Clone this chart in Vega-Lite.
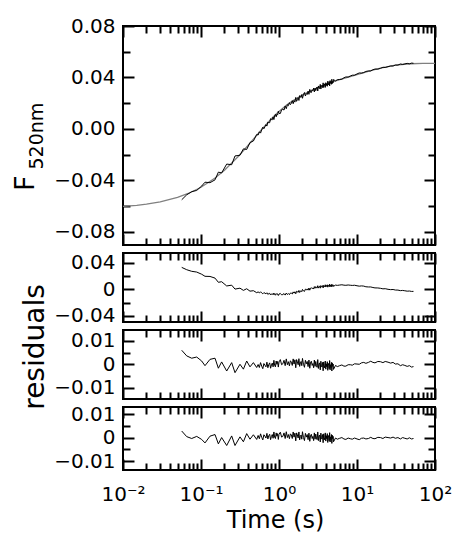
{
"$schema":"https://vega.github.io/schema/vega-lite/v6.json",
"background":"white",
"padding":{"left":10,"top":15,"right":0,"bottom":0},
"config":{"view":{"stroke":"black","strokeWidth":2},
"axis":{"grid":false,"domain":false,"labelFont":"DejaVu Sans","labelFontSize":20,"labelColor":"black","tickColor":"black","tickWidth":2,"titleFont":"DejaVu Sans","titleFontWeight":"normal","titleColor":"black","labelFlush":false,"labelOverlap":false}},
"datasets":{
"fit":[{"t":0.01,"F":-0.0601},{"t":0.015,"F":-0.05925},{"t":0.02,"F":-0.05834},{"t":0.03,"F":-0.05658},{"t":0.05,"F":-0.05316},{"t":0.07,"F":-0.04989},{"t":0.1,"F":-0.04528},{"t":0.15,"F":-0.03825},{"t":0.2,"F":-0.03197},{"t":0.3,"F":-0.02136},{"t":0.4,"F":-0.01283},{"t":0.5,"F":-0.00595},{"t":0.6,"F":-0.00037},{"t":0.7,"F":0.00417},{"t":0.8,"F":0.00793},{"t":0.9,"F":0.01104},{"t":1,"F":0.01364},{"t":1.25,"F":0.01855},{"t":1.5,"F":0.02196},{"t":2,"F":0.02645},{"t":2.5,"F":0.02939},{"t":3,"F":0.03155},{"t":3.5,"F":0.03324},{"t":4,"F":0.03462},{"t":5,"F":0.03672},{"t":6,"F":0.03828},{"t":7,"F":0.03952},{"t":8,"F":0.04056},{"t":10,"F":0.04226},{"t":12,"F":0.04364},{"t":15,"F":0.04527},{"t":20,"F":0.04722},{"t":25,"F":0.04851},{"t":30,"F":0.04936},{"t":40,"F":0.05029},{"t":50,"F":0.05069},{"t":70,"F":0.05094},{"t":100,"F":0.051}],
"res":[
{"t":0.0566,"r2":0.0329,"r3":0.006,"r4":0.0029,"F":-0.05496},
{"t":0.0656,"r2":0.0294,"r3":0.0036,"r4":0.0005,"F":-0.05111},
{"t":0.076,"r2":0.027,"r3":0.0026,"r4":-0.0003,"F":-0.04867},
{"t":0.0881,"r2":0.0259,"r3":0.0031,"r4":0.0006,"F":-0.04771},
{"t":0.102,"r2":0.0226,"r3":0.0014,"r4":-0.0007,"F":-0.0443},
{"t":0.1125,"r2":0.0195,"r3":-0.0006,"r4":-0.0022,"F":-0.04132},
{"t":0.1304,"r2":0.0193,"r3":0.0021,"r4":0.0007,"F":-0.04171},
{"t":0.1512,"r2":0.0168,"r3":0.0026,"r4":0.0014,"F":-0.0395},
{"t":0.167,"r2":0.0105,"r3":-0.0017,"r4":-0.0026,"F":-0.03352},
{"t":0.184,"r2":0.0114,"r3":0.001,"r4":0.0001,"F":-0.03408},
{"t":0.2135,"r2":0.005,"r3":-0.0029,"r4":-0.0033,"F":-0.02724},
{"t":0.2474,"r2":0.0062,"r3":0.0007,"r4":0.0008,"F":-0.02774},
{"t":0.2729,"r2":0.0003,"r3":-0.0036,"r4":-0.0033,"F":-0.02093},
{"t":0.316,"r2":0.0017,"r3":0.0,"r4":0.0004,"F":-0.0204},
{"t":0.3496,"r2":-0.0016,"r3":-0.0021,"r4":-0.0017,"F":-0.01543},
{"t":0.3853,"r2":0.0008,"r3":0.0014,"r4":0.0018,"F":-0.01589},
{"t":0.4248,"r2":-0.0028,"r3":-0.0011,"r4":-0.0006,"F":-0.01052},
{"t":0.4697,"r2":-0.0021,"r3":0.0007,"r4":0.0013,"F":-0.00933},
{"t":0.5177,"r2":-0.0051,"r3":-0.0014,"r4":-0.0007,"F":-0.00426},
{"t":0.54,"r2":-0.0039,"r3":-0.0001,"r4":0.001,"F":-0.00467},
{"t":0.56,"r2":-0.0055,"r3":-0.0014,"r4":-0.0004,"F":-0.0022},
{"t":0.58,"r2":-0.0037,"r3":0.0007,"r4":0.0017,"F":-0.00319},
{"t":0.6,"r2":-0.0055,"r3":-0.0008,"r4":0.0002,"F":-0.00057},
{"t":0.62,"r2":-0.0068,"r3":-0.0019,"r4":-0.0009,"F":0.00139},
{"t":0.64,"r2":-0.005,"r3":0.0003,"r4":0.0013,"F":0.0002},
{"t":0.66,"r2":-0.0058,"r3":-0.0004,"r4":0.0007,"F":0.00171},
{"t":0.68,"r2":-0.0068,"r3":-0.0011,"r4":-0.0001,"F":0.00337},
{"t":0.7,"r2":-0.0052,"r3":0.0009,"r4":0.0019,"F":0.00227},
{"t":0.72,"r2":-0.0077,"r3":-0.0015,"r4":-0.0005,"F":0.00542},
{"t":0.74,"r2":-0.0065,"r3":-0.0001,"r4":0.0009,"F":0.00477},
{"t":0.76,"r2":-0.006,"r3":0.0006,"r4":0.0015,"F":0.00493},
{"t":0.78,"r2":-0.0085,"r3":-0.0017,"r4":-0.0008,"F":0.00798},
{"t":0.8,"r2":-0.0072,"r3":-0.0003,"r4":0.0006,"F":0.00733},
{"t":0.82,"r2":-0.0066,"r3":0.0005,"r4":0.0014,"F":0.00715},
{"t":0.84,"r2":-0.0083,"r3":-0.0011,"r4":-0.0002,"F":0.00937},
{"t":0.86,"r2":-0.0056,"r3":0.0017,"r4":0.0025,"F":0.0073},
{"t":0.88,"r2":-0.0081,"r3":-0.0006,"r4":0.0002,"F":0.01022},
{"t":0.9,"r2":-0.0087,"r3":-0.0011,"r4":-0.0003,"F":0.01134},
{"t":0.92,"r2":-0.0064,"r3":0.0014,"r4":0.0021,"F":0.00946},
{"t":0.94,"r2":-0.0078,"r3":0.0,"r4":0.0007,"F":0.01138},
{"t":0.96,"r2":-0.0068,"r3":0.0012,"r4":0.0018,"F":0.0108},
{"t":0.98,"r2":-0.0093,"r3":-0.0012,"r4":-0.0007,"F":0.01382},
{"t":1.0,"r2":-0.0072,"r3":0.001,"r4":0.0015,"F":0.01214},
{"t":1.04,"r2":-0.0062,"r3":0.002,"r4":0.0024,"F":0.01203},
{"t":1.08,"r2":-0.0083,"r3":-0.0002,"r4":0.0003,"F":0.01491},
{"t":1.12,"r2":-0.0079,"r3":0.0002,"r4":0.0006,"F":0.0154},
{"t":1.16,"r2":-0.0064,"r3":0.0017,"r4":0.0021,"F":0.01469},
{"t":1.2,"r2":-0.0087,"r3":-0.0006,"r4":-0.0003,"F":0.01787},
{"t":1.24,"r2":-0.0056,"r3":0.0023,"r4":0.0026,"F":0.01576},
{"t":1.28,"r2":-0.0079,"r3":-0.0002,"r4":0.0001,"F":0.01886},
{"t":1.32,"r2":-0.0064,"r3":0.0011,"r4":0.0014,"F":0.01811},
{"t":1.36,"r2":-0.008,"r3":-0.0007,"r4":-0.0004,"F":0.02045},
{"t":1.4,"r2":-0.0056,"r3":0.0015,"r4":0.0017,"F":0.0189},
{"t":1.44,"r2":-0.0058,"r3":0.0009,"r4":0.0012,"F":0.01994},
{"t":1.48,"r2":-0.007,"r3":-0.0005,"r4":-0.0003,"F":0.02199},
{"t":1.52,"r2":-0.0039,"r3":0.0023,"r4":0.0025,"F":0.01964},
{"t":1.56,"r2":-0.0058,"r3":0.0001,"r4":0.0003,"F":0.0222},
{"t":1.6,"r2":-0.0037,"r3":0.0019,"r4":0.002,"F":0.02086},
{"t":1.64,"r2":-0.0067,"r3":-0.0015,"r4":-0.0013,"F":0.02452},
{"t":1.68,"r2":-0.003,"r3":0.002,"r4":0.0021,"F":0.02148},
{"t":1.72,"r2":-0.0036,"r3":0.0011,"r4":0.0012,"F":0.02274},
{"t":1.76,"r2":-0.0046,"r3":-0.0002,"r4":-0.0001,"F":0.0244},
{"t":1.8,"r2":-0.0017,"r3":0.0024,"r4":0.0025,"F":0.02216},
{"t":1.84,"r2":-0.0048,"r3":-0.0009,"r4":-0.0009,"F":0.02592},
{"t":1.88,"r2":-0.003,"r3":0.0006,"r4":0.0006,"F":0.02477},
{"t":1.92,"r2":-0.0021,"r3":0.0012,"r4":0.0012,"F":0.02453},
{"t":1.96,"r2":-0.0036,"r3":-0.0006,"r4":-0.0006,"F":0.02669},
{"t":2.0,"r2":-0.0002,"r3":0.0025,"r4":0.0026,"F":0.02385},
{"t":2.06,"r2":-0.0023,"r3":0.0,"r4":0.0001,"F":0.0267},
{"t":2.12,"r2":-0.0032,"r3":-0.0013,"r4":-0.0012,"F":0.02836},
{"t":2.18,"r2":0.0003,"r3":0.0017,"r4":0.0019,"F":0.02561},
{"t":2.24,"r2":-0.0009,"r3":0.0002,"r4":0.0003,"F":0.02756},
{"t":2.3,"r2":0.0006,"r3":0.0012,"r4":0.0014,"F":0.02682},
{"t":2.36,"r2":-0.0013,"r3":-0.001,"r4":-0.0008,"F":0.02937},
{"t":2.42,"r2":0.0019,"r3":0.0018,"r4":0.002,"F":0.02692},
{"t":2.48,"r2":-0.0013,"r3":-0.0017,"r4":-0.0015,"F":0.03078},
{"t":2.54,"r2":0.0016,"r3":0.0009,"r4":0.0011,"F":0.02846},
{"t":2.6,"r2":0.0024,"r3":0.0013,"r4":0.0015,"F":0.02832},
{"t":2.66,"r2":0.0009,"r3":-0.0005,"r4":-0.0003,"F":0.03038},
{"t":2.72,"r2":0.002,"r3":0.0003,"r4":0.0006,"F":0.02974},
{"t":2.78,"r2":0.0004,"r3":-0.0015,"r4":-0.0012,"F":0.0318},
{"t":2.84,"r2":0.004,"r3":0.0018,"r4":0.0021,"F":0.02876},
{"t":2.9,"r2":0.0016,"r3":-0.0009,"r4":-0.0006,"F":0.03172},
{"t":2.96,"r2":0.004,"r3":0.0012,"r4":0.0016,"F":0.02978},
{"t":3.02,"r2":0.0024,"r3":-0.0006,"r4":-0.0001,"F":0.03172},
{"t":3.08,"r2":0.0019,"r3":-0.0013,"r4":-0.0008,"F":0.03262},
{"t":3.14,"r2":0.0054,"r3":0.002,"r4":0.0025,"F":0.02953},
{"t":3.2,"r2":0.0018,"r3":-0.0018,"r4":-0.0012,"F":0.03343},
{"t":3.26,"r2":0.0039,"r3":0.0001,"r4":0.0008,"F":0.03163},
{"t":3.32,"r2":0.0046,"r3":0.0006,"r4":0.0012,"F":0.03144},
{"t":3.38,"r2":0.0017,"r3":-0.0024,"r4":-0.0018,"F":0.03464},
{"t":3.44,"r2":0.0056,"r3":0.0013,"r4":0.002,"F":0.03104},
{"t":3.5,"r2":0.0038,"r3":-0.0007,"r4":0.0,"F":0.03324},
{"t":3.56,"r2":0.0034,"r3":-0.0012,"r4":-0.0006,"F":0.03401},
{"t":3.62,"r2":0.0055,"r3":0.0008,"r4":0.0014,"F":0.03217},
{"t":3.68,"r2":0.0021,"r3":-0.0028,"r4":-0.0021,"F":0.03584},
{"t":3.74,"r2":0.0059,"r3":0.001,"r4":0.0017,"F":0.0322},
{"t":3.8,"r2":0.0045,"r3":-0.0005,"r4":0.0001,"F":0.03397},
{"t":3.86,"r2":0.0036,"r3":-0.0016,"r4":-0.0009,"F":0.03514},
{"t":3.92,"r2":0.0068,"r3":0.0014,"r4":0.0021,"F":0.0323},
{"t":3.98,"r2":0.0034,"r3":-0.0021,"r4":-0.0014,"F":0.03597},
{"t":4.04,"r2":0.0057,"r3":0.0002,"r4":0.0009,"F":0.03381},
{"t":4.1,"r2":0.0045,"r3":-0.0011,"r4":-0.0004,"F":0.03525},
{"t":4.16,"r2":0.0068,"r3":0.0011,"r4":0.0018,"F":0.03318},
{"t":4.22,"r2":0.0032,"r3":-0.0026,"r4":-0.002,"F":0.03712},
{"t":4.28,"r2":0.0062,"r3":0.0004,"r4":0.001,"F":0.03426},
{"t":4.34,"r2":0.0056,"r3":-0.0004,"r4":0.0003,"F":0.03509},
{"t":4.4,"r2":0.0041,"r3":-0.0019,"r4":-0.0013,"F":0.03683},
{"t":4.46,"r2":0.0077,"r3":0.0016,"r4":0.0022,"F":0.03346},
{"t":4.52,"r2":0.0038,"r3":-0.0024,"r4":-0.0018,"F":0.03759},
{"t":4.58,"r2":0.0061,"r3":-0.0002,"r4":0.0004,"F":0.03551},
{"t":4.64,"r2":0.0049,"r3":-0.0014,"r4":-0.0008,"F":0.03682},
{"t":4.7,"r2":0.0072,"r3":0.0008,"r4":0.0014,"F":0.03474},
{"t":4.76,"r2":0.0035,"r3":-0.0029,"r4":-0.0024,"F":0.03865},
{"t":4.82,"r2":0.007,"r3":0.0006,"r4":0.0011,"F":0.03527},
{"t":4.88,"r2":0.0056,"r3":-0.0009,"r4":-0.0004,"F":0.03689},
{"t":4.94,"r2":0.0066,"r3":0.0001,"r4":0.0006,"F":0.036},
{"t":5.0,"r2":0.0044,"r3":-0.0022,"r4":-0.0017,"F":0.03842},
{"t":5.3,"r2":0.0063,"r3":-0.0005,"r4":-0.0001,"F":0.03732},
{"t":5.6,"r2":0.0059,"r3":-0.001,"r4":-0.0006,"F":0.0383},
{"t":6.0,"r2":0.0064,"r3":-0.0006,"r4":-0.0002,"F":0.03848},
{"t":6.4,"r2":0.0068,"r3":-0.0003,"r4":0.0001,"F":0.03868},
{"t":6.8,"r2":0.0062,"r3":-0.0008,"r4":-0.0005,"F":0.03977},
{"t":7.2,"r2":0.006,"r3":-0.0008,"r4":-0.0007,"F":0.04043},
{"t":7.7,"r2":0.0065,"r3":-0.0002,"r4":-0.0001,"F":0.04035},
{"t":8.2,"r2":0.0061,"r3":-0.0002,"r4":-0.0004,"F":0.04114},
{"t":8.7,"r2":0.0058,"r3":-0.0004,"r4":-0.0006,"F":0.04179},
{"t":9.3,"r2":0.0061,"r3":0.0002,"r4":-0.0001,"F":0.0418},
{"t":10,"r2":0.0053,"r3":0.0001,"r4":-0.0005,"F":0.04276},
{"t":10.7,"r2":0.0047,"r3":0.0,"r4":-0.0008,"F":0.04354},
{"t":11.4,"r2":0.0051,"r3":0.0006,"r4":-0.0002,"F":0.04343},
{"t":12.2,"r2":0.0048,"r3":0.0008,"r4":-0.0001,"F":0.04385},
{"t":13,"r2":0.0038,"r3":0.0004,"r4":-0.0005,"F":0.04471},
{"t":14,"r2":0.0035,"r3":0.0008,"r4":-0.0003,"F":0.04507},
{"t":15,"r2":0.0035,"r3":0.0013,"r4":0.0002,"F":0.04507},
{"t":16,"r2":0.0027,"r3":0.0008,"r4":-0.0003,"F":0.04601},
{"t":17,"r2":0.0021,"r3":0.0006,"r4":-0.0004,"F":0.04655},
{"t":18.5,"r2":0.002,"r3":0.0012,"r4":0.0002,"F":0.04648},
{"t":20,"r2":0.0015,"r3":0.0011,"r4":0.0001,"F":0.04712},
{"t":21.5,"r2":0.0007,"r3":0.0007,"r4":-0.0003,"F":0.04794},
{"t":23,"r2":0.0009,"r3":0.0012,"r4":0.0003,"F":0.04776},
{"t":25,"r2":0.0,"r3":0.0009,"r4":0.0001,"F":0.04841},
{"t":27,"r2":-0.0005,"r3":0.0005,"r4":-0.0001,"F":0.04895},
{"t":29,"r2":-0.0003,"r3":0.0008,"r4":0.0003,"F":0.0489},
{"t":31,"r2":-0.0011,"r3":0.0001,"r4":-0.0002,"F":0.04967},
{"t":33.5,"r2":-0.0012,"r3":0.0002,"r4":0.0001,"F":0.04965},
{"t":36,"r2":-0.002,"r3":-0.0006,"r4":-0.0005,"F":0.0505},
{"t":38.5,"r2":-0.0017,"r3":-0.0002,"r4":0.0001,"F":0.05008},
{"t":41,"r2":-0.0022,"r3":-0.0005,"r4":-0.0002,"F":0.05054},
{"t":44,"r2":-0.0028,"r3":-0.0009,"r4":-0.0005,"F":0.05098},
{"t":47,"r2":-0.0026,"r3":-0.0006,"r4":0.0,"F":0.0506},
{"t":50,"r2":-0.0032,"r3":-0.0012,"r4":-0.0005,"F":0.05119},
{"t":53,"r2":-0.0031,"r3":-0.001,"r4":-0.0003,"F":0.05105}
]},
"spacing":8,
"bounds":"flush",
"vconcat":[
{"width":312,"height":219,
"layer":[
{"data":{"name":"fit"},"mark":{"type":"line","color":"#808080","strokeWidth":1.3,"clip":true},
"encoding":{"x":{"field":"t","type":"quantitative","scale":{"type":"log","domain":[0.01,100],"nice":false},"axis":null},
"y":{"field":"F","type":"quantitative","scale":{"domain":[-0.0901,0.08],"nice":false,"zero":false},"axis":{"orient":"left","values":[-0.08,-0.04,0,0.04,0.08],"ticks":false,"labelPadding":8,"format":".2f","title":"F","titleFontSize":27,"titleAngle":270,"titleAlign":"left","titleBaseline":"alphabetic","titleX":-89.5,"titleY":164.5}}}},
{"data":{"name":"res"},"mark":{"type":"line","color":"black","strokeWidth":1,"clip":true},
"encoding":{"x":{"field":"t","type":"quantitative","scale":{"type":"log","domain":[0.01,100],"nice":false},"axis":{"orient":"bottom","values":[0.01,0.1,1,10,100],"labels":false,"tickSize":-11,"title":null}},
"y":{"field":"F","type":"quantitative","axis":{"orient":"left","values":[-0.08,-0.04,0,0.04,0.08],"labels":false,"tickSize":-11,"title":"520nm","titleFontSize":19,"titleAngle":270,"titleAlign":"left","titleBaseline":"alphabetic","titleX":-81,"titleY":143}}}},
{"data":{"name":"fit"},"mark":{"type":"line","opacity":0},
"encoding":{"x":{"field":"t","type":"quantitative","axis":{"orient":"bottom","values":[0.02,0.03,0.04,0.05,0.06,0.07,0.08,0.09,0.2,0.3,0.4,0.5,0.6,0.7,0.8,0.9,2,3,4,5,6,7,8,9,20,30,40,50,60,70,80,90],"labels":false,"tickSize":-7,"title":null}},
"y":{"field":"F","type":"quantitative","axis":{"orient":"left","values":[-0.06,-0.02,0.02,0.06],"labels":false,"tickSize":-7,"title":null}}}},
{"data":{"name":"fit"},"mark":{"type":"line","opacity":0},
"encoding":{"x":{"field":"t","type":"quantitative","axis":{"orient":"top","values":[0.01,0.1,1,10,100],"labels":false,"tickSize":-11,"title":null}},
"y":{"field":"F","type":"quantitative","axis":{"orient":"right","values":[-0.08,-0.04,0,0.04,0.08],"labels":false,"tickSize":-11,"title":null}}}},
{"data":{"name":"fit"},"mark":{"type":"line","opacity":0},
"encoding":{"x":{"field":"t","type":"quantitative","axis":{"orient":"top","values":[0.02,0.03,0.04,0.05,0.06,0.07,0.08,0.09,0.2,0.3,0.4,0.5,0.6,0.7,0.8,0.9,2,3,4,5,6,7,8,9,20,30,40,50,60,70,80,90],"labels":false,"tickSize":-7,"title":null}},
"y":{"field":"F","type":"quantitative","axis":{"orient":"right","values":[-0.06,-0.02,0.02,0.06],"labels":false,"tickSize":-7,"title":null}}}}
],
"resolve":{"axis":{"x":"independent","y":"independent"}}},
{"width":312,"height":69,"data":{"name":"res"},
"layer":[
{"mark":{"type":"line","color":"black","strokeWidth":1,"clip":true},
"encoding":{"x":{"field":"t","type":"quantitative","scale":{"type":"log","domain":[0.01,100],"nice":false},"axis":null},
"y":{"field":"r2","type":"quantitative","scale":{"domain":[-0.0491,0.0545],"nice":false,"zero":false},"axis":{"orient":"left","values":[-0.04,0,0.04],"ticks":false,"labelPadding":8,"labelExpr":"datum.value == 0 ? '0' : format(datum.value, '.2f')","title":null}}}},
{"mark":{"type":"line","opacity":0},
"encoding":{"x":{"field":"t","type":"quantitative","axis":{"orient":"bottom","values":[0.01,0.1,1,10,100],"labels":false,"tickSize":-11,"title":null}},
"y":{"field":"r2","type":"quantitative","axis":{"orient":"left","values":[-0.04,0,0.04],"labels":false,"tickSize":-11,"title":null}}}},
{"mark":{"type":"line","opacity":0},
"encoding":{"x":{"field":"t","type":"quantitative","axis":{"orient":"bottom","values":[0.02,0.03,0.04,0.05,0.06,0.07,0.08,0.09,0.2,0.3,0.4,0.5,0.6,0.7,0.8,0.9,2,3,4,5,6,7,8,9,20,30,40,50,60,70,80,90],"labels":false,"tickSize":-7,"title":null}},
"y":{"field":"r2","type":"quantitative","axis":{"orient":"left","values":[-0.02,0.02],"labels":false,"tickSize":-7,"title":null}}}},
{"mark":{"type":"line","opacity":0},
"encoding":{"x":{"field":"t","type":"quantitative","axis":{"orient":"top","values":[0.01,0.1,1,10,100],"labels":false,"tickSize":-11,"title":null}},
"y":{"field":"r2","type":"quantitative","axis":{"orient":"right","values":[-0.04,0,0.04],"labels":false,"tickSize":-11,"title":null}}}},
{"mark":{"type":"line","opacity":0},
"encoding":{"x":{"field":"t","type":"quantitative","axis":{"orient":"top","values":[0.02,0.03,0.04,0.05,0.06,0.07,0.08,0.09,0.2,0.3,0.4,0.5,0.6,0.7,0.8,0.9,2,3,4,5,6,7,8,9,20,30,40,50,60,70,80,90],"labels":false,"tickSize":-7,"title":null}},
"y":{"field":"r2","type":"quantitative","axis":{"orient":"right","values":[-0.02,0.02],"labels":false,"tickSize":-7,"title":null}}}}
],
"resolve":{"axis":{"x":"independent","y":"independent"}}},
{"width":312,"height":69,"data":{"name":"res"},
"layer":[
{"mark":{"type":"line","color":"black","strokeWidth":1,"clip":true},
"encoding":{"x":{"field":"t","type":"quantitative","scale":{"type":"log","domain":[0.01,100],"nice":false},"axis":null},
"y":{"field":"r3","type":"quantitative","scale":{"domain":[-0.0149,0.0147],"nice":false,"zero":false},"axis":{"orient":"left","values":[-0.01,0,0.01],"ticks":false,"labelPadding":8,"labelExpr":"datum.value == 0 ? '0' : format(datum.value, '.2f')","title":"residuals","titleFont":"DejaVu Sans","titleFontSize":28,"titleAngle":270,"titleAlign":"center","titleBaseline":"alphabetic","titleX":-79.3,"titleY":16.5}}}},
{"mark":{"type":"line","opacity":0},
"encoding":{"x":{"field":"t","type":"quantitative","axis":{"orient":"bottom","values":[0.01,0.1,1,10,100],"labels":false,"tickSize":-11,"title":null}},
"y":{"field":"r3","type":"quantitative","axis":{"orient":"left","values":[-0.01,0,0.01],"labels":false,"tickSize":-11,"title":null}}}},
{"mark":{"type":"line","opacity":0},
"encoding":{"x":{"field":"t","type":"quantitative","axis":{"orient":"bottom","values":[0.02,0.03,0.04,0.05,0.06,0.07,0.08,0.09,0.2,0.3,0.4,0.5,0.6,0.7,0.8,0.9,2,3,4,5,6,7,8,9,20,30,40,50,60,70,80,90],"labels":false,"tickSize":-7,"title":null}},
"y":{"field":"r3","type":"quantitative","axis":{"orient":"left","values":[-0.005,0.005],"labels":false,"tickSize":-7,"title":null}}}},
{"mark":{"type":"line","opacity":0},
"encoding":{"x":{"field":"t","type":"quantitative","axis":{"orient":"top","values":[0.01,0.1,1,10,100],"labels":false,"tickSize":-11,"title":null}},
"y":{"field":"r3","type":"quantitative","axis":{"orient":"right","values":[-0.01,0,0.01],"labels":false,"tickSize":-11,"title":null}}}},
{"mark":{"type":"line","opacity":0},
"encoding":{"x":{"field":"t","type":"quantitative","axis":{"orient":"top","values":[0.02,0.03,0.04,0.05,0.06,0.07,0.08,0.09,0.2,0.3,0.4,0.5,0.6,0.7,0.8,0.9,2,3,4,5,6,7,8,9,20,30,40,50,60,70,80,90],"labels":false,"tickSize":-7,"title":null}},
"y":{"field":"r3","type":"quantitative","axis":{"orient":"right","values":[-0.005,0.005],"labels":false,"tickSize":-7,"title":null}}}}
],
"resolve":{"axis":{"x":"independent","y":"independent"}}},
{"width":312,"height":63,"data":{"name":"res"},
"layer":[
{"mark":{"type":"line","color":"black","strokeWidth":1,"clip":true},
"encoding":{"x":{"field":"t","type":"quantitative","scale":{"type":"log","domain":[0.01,100],"nice":false},"axis":{"orient":"bottom","values":[0.01,0.1,1,10,100],"ticks":false,"labelPadding":14,"labelExpr":"datum.value < 0.05 ? '10⁻²' : datum.value < 0.5 ? '10⁻¹' : datum.value < 5 ? '10⁰' : datum.value < 50 ? '10¹' : '10²'","title":"Time (s)","titleFontSize":24,"titleAlign":"center","titleBaseline":"alphabetic","titleX":152,"titleY":57}},
"y":{"field":"r4","type":"quantitative","scale":{"domain":[-0.0138,0.0132],"nice":false,"zero":false},"axis":{"orient":"left","values":[-0.01,0,0.01],"ticks":false,"labelPadding":8,"labelExpr":"datum.value == 0 ? '0' : format(datum.value, '.2f')","title":null}}}},
{"mark":{"type":"line","opacity":0},
"encoding":{"x":{"field":"t","type":"quantitative","axis":{"orient":"bottom","values":[0.01,0.1,1,10,100],"labels":false,"tickSize":-11,"title":null}},
"y":{"field":"r4","type":"quantitative","axis":{"orient":"left","values":[-0.01,0,0.01],"labels":false,"tickSize":-11,"title":null}}}},
{"mark":{"type":"line","opacity":0},
"encoding":{"x":{"field":"t","type":"quantitative","axis":{"orient":"bottom","values":[0.02,0.03,0.04,0.05,0.06,0.07,0.08,0.09,0.2,0.3,0.4,0.5,0.6,0.7,0.8,0.9,2,3,4,5,6,7,8,9,20,30,40,50,60,70,80,90],"labels":false,"tickSize":-7,"title":null}},
"y":{"field":"r4","type":"quantitative","axis":{"orient":"left","values":[-0.005,0.005],"labels":false,"tickSize":-7,"title":null}}}},
{"mark":{"type":"line","opacity":0},
"encoding":{"x":{"field":"t","type":"quantitative","axis":{"orient":"top","values":[0.01,0.1,1,10,100],"labels":false,"tickSize":-11,"title":null}},
"y":{"field":"r4","type":"quantitative","axis":{"orient":"right","values":[-0.01,0,0.01],"labels":false,"tickSize":-11,"title":null}}}},
{"mark":{"type":"line","opacity":0},
"encoding":{"x":{"field":"t","type":"quantitative","axis":{"orient":"top","values":[0.02,0.03,0.04,0.05,0.06,0.07,0.08,0.09,0.2,0.3,0.4,0.5,0.6,0.7,0.8,0.9,2,3,4,5,6,7,8,9,20,30,40,50,60,70,80,90],"labels":false,"tickSize":-7,"title":null}},
"y":{"field":"r4","type":"quantitative","axis":{"orient":"right","values":[-0.005,0.005],"labels":false,"tickSize":-7,"title":null}}}}
],
"resolve":{"axis":{"x":"independent","y":"independent"}}}
]
}
